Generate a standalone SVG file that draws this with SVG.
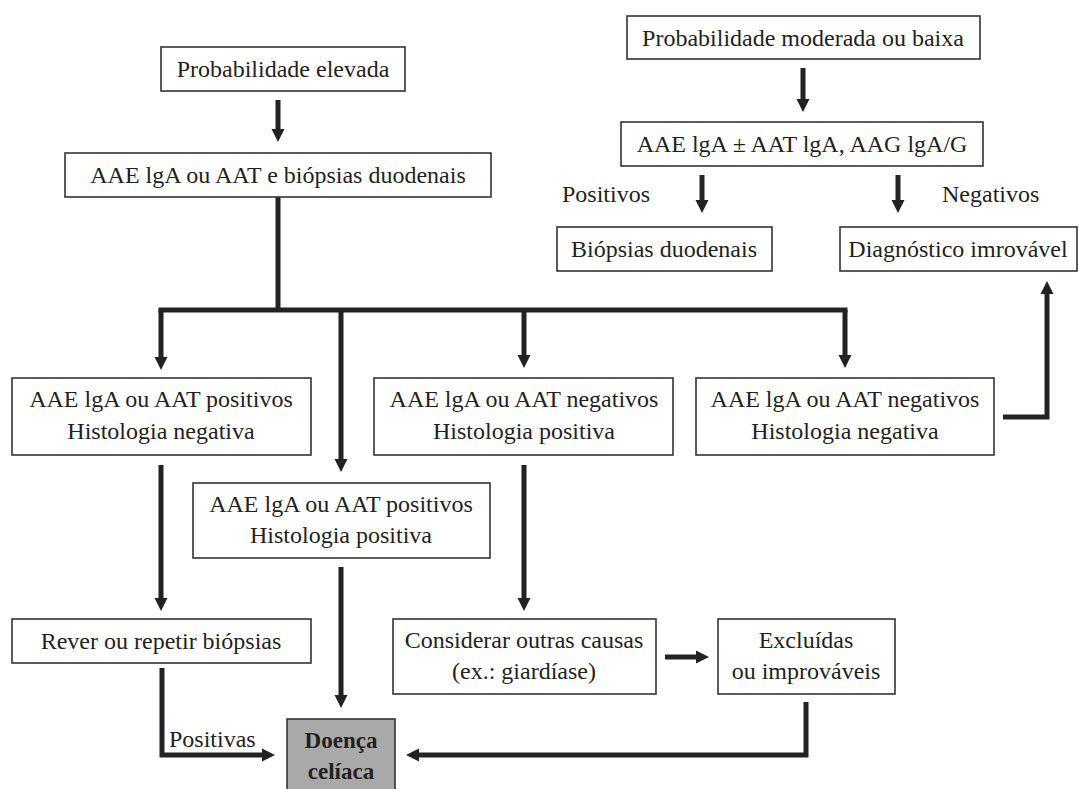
<svg xmlns="http://www.w3.org/2000/svg" width="1079" height="789" viewBox="0 0 1079 789">
  <defs>
    <marker id="ah" markerUnits="userSpaceOnUse" markerWidth="14" markerHeight="14" refX="4" refY="7" orient="auto">
      <path d="M0,0.5 L13,7 L0,13.5 z" fill="#222"/>
    </marker>
  </defs>
  <style>
    .box { fill: #ffffff; stroke: #333333; stroke-width: 1.6; }
    .grey { fill: #a9a9a9; stroke: #333333; stroke-width: 1.6; }
    .t { font-family: 'Liberation Serif', 'Times New Roman', serif; font-size: 24px; fill: #231f20; text-anchor: middle; }
    .bold { font-weight: bold; font-size: 23px; }
    .lbl { text-anchor: start; }
    .line { fill: none; stroke: #222; stroke-width: 5; }
    .arr { fill: none; stroke: #222; stroke-width: 5; marker-end: url(#ah); }
  </style>
  <rect width="1079" height="789" fill="#ffffff"/>

  <g id="connectors">
    <path class="arr" d="M278,100 V133"/>
    <path class="line" d="M278,197 V310"/>
    <path class="line" d="M161,310 H845" stroke-linecap="square"/>
    <path class="arr" d="M161,310 V361"/>
    <path class="arr" d="M341,310 V463"/>
    <path class="arr" d="M524,310 V359"/>
    <path class="arr" d="M845,310 V359"/>
    <path class="arr" d="M803,68 V103"/>
    <path class="arr" d="M702,175 V204"/>
    <path class="arr" d="M898,175 V204"/>
    <path class="arr" d="M1003,417 H1047 V290"/>
    <path class="arr" d="M161,465 V602"/>
    <path class="arr" d="M524,465 V602"/>
    <path class="arr" d="M341,567 V699"/>
    <path class="arr" d="M665,657 H700"/>
    <path class="arr" d="M162,668 V755 H266"/>
    <path class="arr" d="M806,702 V755 H415"/>
  </g>

  <g id="n-prob-elevada">
    <rect class="box" x="161" y="47" width="244" height="44"/>
    <text class="t" x="283" y="77">Probabilidade elevada</text>
  </g>
  <g id="n-aae-biopsias">
    <rect class="box" x="65" y="153" width="426" height="44"/>
    <text class="t" x="278" y="183">AAE lgA ou AAT e biópsias duodenais</text>
  </g>
  <g id="n-prob-moderada">
    <rect class="box" x="627" y="16" width="353" height="43"/>
    <text class="t" x="803" y="46">Probabilidade moderada ou baixa</text>
  </g>
  <g id="n-aae-aat-aag">
    <rect class="box" x="621" y="122" width="362" height="44"/>
    <text class="t" x="802" y="152">AAE lgA ± AAT lgA, AAG lgA/G</text>
  </g>
  <g id="lbl-positivos">
    <text class="t lbl" x="562" y="202">Positivos</text>
  </g>
  <g id="lbl-negativos">
    <text class="t lbl" x="942" y="202">Negativos</text>
  </g>
  <g id="n-biopsias">
    <rect class="box" x="557" y="227" width="215" height="44"/>
    <text class="t" x="664" y="257">Biópsias duodenais</text>
  </g>
  <g id="n-diagnostico">
    <rect class="box" x="840" y="227" width="237" height="44"/>
    <text class="t" x="958" y="257">Diagnóstico imrovável</text>
  </g>
  <g id="n-pos-neg">
    <rect class="box" x="12" y="378" width="299" height="77"/>
    <text class="t" x="161" y="407">AAE lgA ou AAT positivos</text>
    <text class="t" x="161" y="439">Histologia negativa</text>
  </g>
  <g id="n-neg-pos">
    <rect class="box" x="374" y="378" width="299" height="77"/>
    <text class="t" x="524" y="407">AAE lgA ou AAT negativos</text>
    <text class="t" x="524" y="439">Histologia positiva</text>
  </g>
  <g id="n-neg-neg">
    <rect class="box" x="696" y="378" width="298" height="77"/>
    <text class="t" x="845" y="407">AAE lgA ou AAT negativos</text>
    <text class="t" x="845" y="439">Histologia negativa</text>
  </g>
  <g id="n-pos-pos">
    <rect class="box" x="193" y="483" width="297" height="75"/>
    <text class="t" x="341" y="512">AAE lgA ou AAT positivos</text>
    <text class="t" x="341" y="543">Histologia positiva</text>
  </g>
  <g id="n-rever">
    <rect class="box" x="12" y="619" width="299" height="44"/>
    <text class="t" x="161" y="649">Rever ou repetir biópsias</text>
  </g>
  <g id="n-considerar">
    <rect class="box" x="393" y="619" width="263" height="75"/>
    <text class="t" x="524" y="648">Considerar outras causas</text>
    <text class="t" x="524" y="679">(ex.: giardíase)</text>
  </g>
  <g id="n-excluidas">
    <rect class="box" x="718" y="619" width="177" height="75"/>
    <text class="t" x="806" y="648">Excluídas</text>
    <text class="t" x="806" y="679">ou improváveis</text>
  </g>
  <g id="lbl-positivas">
    <text class="t lbl" x="169" y="747">Positivas</text>
  </g>
  <g id="n-doenca">
    <rect class="grey" x="287" y="719" width="108" height="80"/>
    <text class="t bold" x="341" y="748">Doença</text>
    <text class="t bold" x="341" y="779">celíaca</text>
  </g>
</svg>
